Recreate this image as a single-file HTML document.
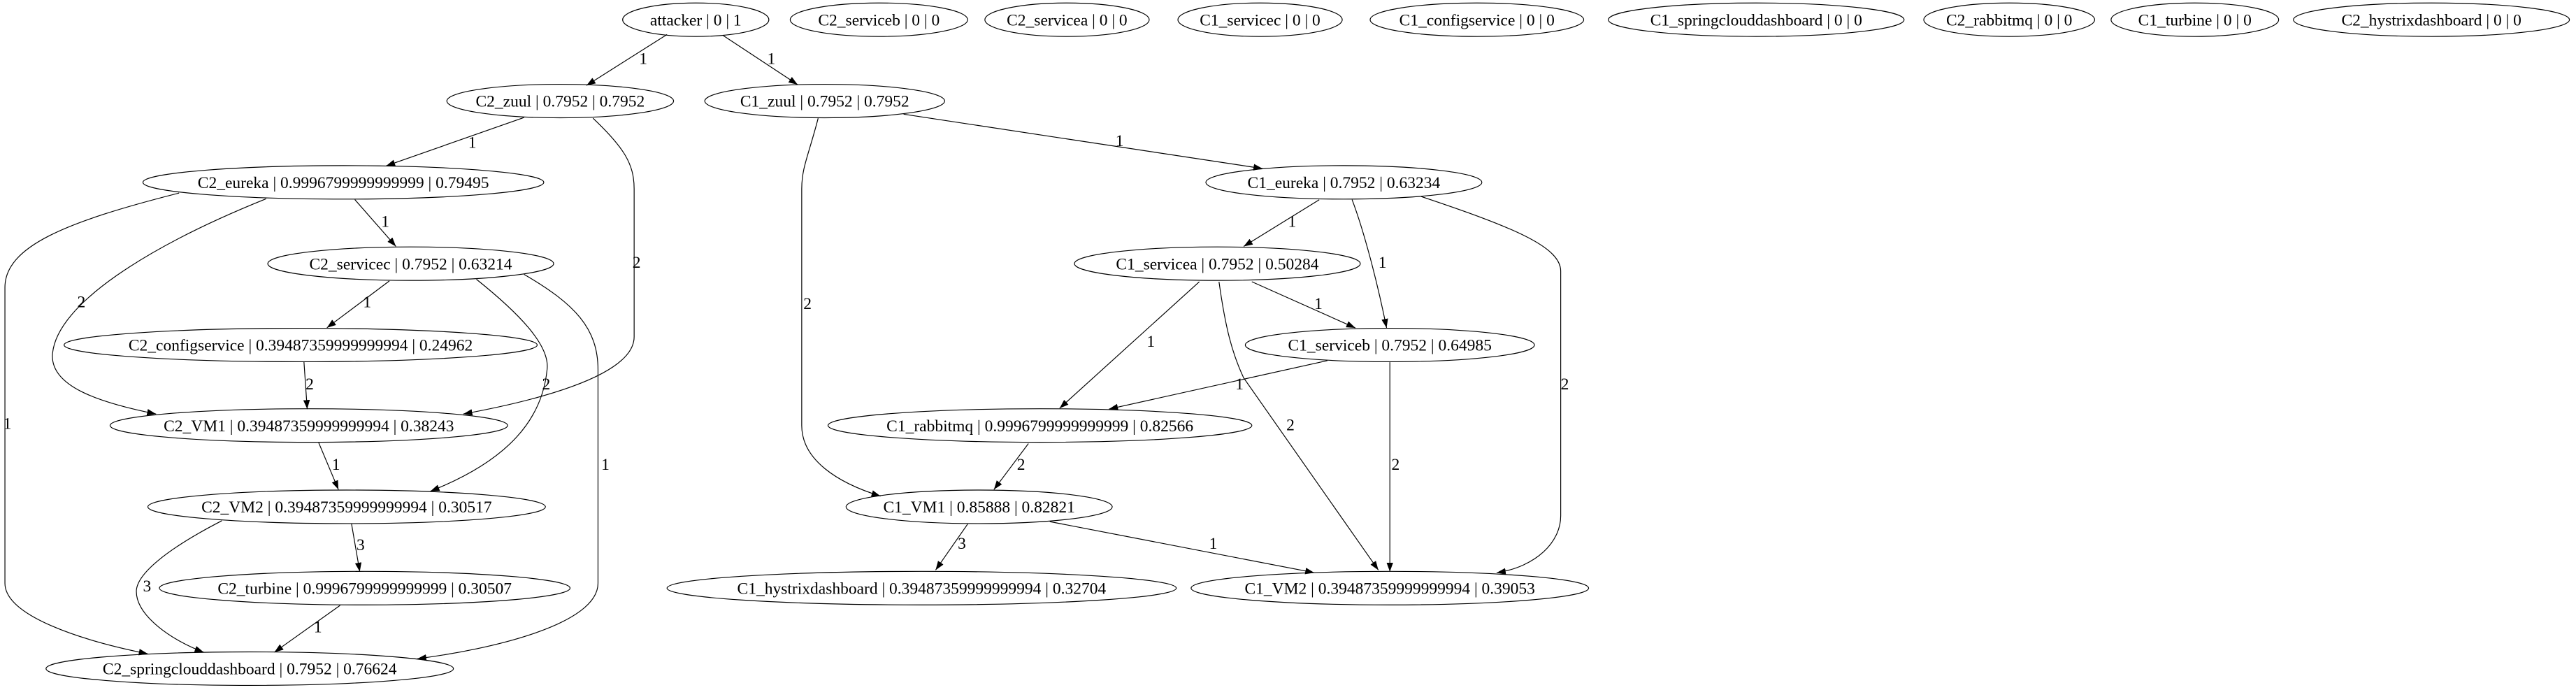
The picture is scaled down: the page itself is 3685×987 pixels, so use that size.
<!DOCTYPE html>
<html><head><meta charset="utf-8"><style>
html,body{margin:0;padding:0;background:#fff;}
svg{display:block;}
text{font-family:"Liberation Serif",serif;font-size:10px;fill:#000;}
</style></head><body>
<svg width="3685" height="987" viewBox="0 0 1568 420" preserveAspectRatio="none" xmlns="http://www.w3.org/2000/svg">
<defs><marker id="a" markerUnits="userSpaceOnUse" markerWidth="6" markerHeight="5" refX="5.5" refY="2" orient="auto"><path d="M0,0 L5.5,2 L0,4 Z" fill="#000"/></marker></defs>
<g fill="none" stroke="#000" stroke-width="0.5">
<ellipse cx="423.5" cy="12" rx="44.5" ry="10.2"/>
<ellipse cx="535" cy="12" rx="54" ry="10.2"/>
<ellipse cx="649.5" cy="12" rx="50" ry="10.2"/>
<ellipse cx="767" cy="12" rx="50" ry="10.2"/>
<ellipse cx="899" cy="12" rx="65" ry="10.2"/>
<ellipse cx="1069" cy="12" rx="90" ry="10.2"/>
<ellipse cx="1223" cy="12" rx="52" ry="10.2"/>
<ellipse cx="1336" cy="12" rx="51" ry="10.2"/>
<ellipse cx="1480" cy="12" rx="84" ry="10.2"/>
<ellipse cx="341" cy="61.5" rx="69" ry="10.2"/>
<ellipse cx="502" cy="61.5" rx="73" ry="10.2"/>
<ellipse cx="209" cy="111" rx="122" ry="10.2"/>
<ellipse cx="818" cy="111" rx="84" ry="10.2"/>
<ellipse cx="250" cy="160.5" rx="87" ry="10.2"/>
<ellipse cx="741" cy="160.5" rx="87" ry="10.2"/>
<ellipse cx="183" cy="210" rx="144" ry="10.2"/>
<ellipse cx="846" cy="210" rx="88" ry="10.2"/>
<ellipse cx="188" cy="259" rx="121" ry="10.2"/>
<ellipse cx="633" cy="259" rx="129" ry="10.2"/>
<ellipse cx="211" cy="308.5" rx="121" ry="10.2"/>
<ellipse cx="596" cy="308.5" rx="81" ry="10.2"/>
<ellipse cx="222" cy="358" rx="125" ry="10.2"/>
<ellipse cx="561" cy="358" rx="155" ry="10.2"/>
<ellipse cx="846" cy="358" rx="121" ry="10.2"/>
<ellipse cx="152" cy="407" rx="124" ry="10.2"/>
</g>
<g fill="none" stroke="#000" stroke-width="0.5" marker-end="url(#a)">
<path d="M406,21 L357,52"/>
<path d="M440,21.5 L485.5,51.5"/>
<path d="M319,71.5 L235,101"/>
<path d="M361,72 C380,90 386,100 386,115 L386,205 C386,230 320,245 282,252"/>
<path d="M498,72 C492,95 488,102 488,115 L488,259 C488,280 510,294 536,302"/>
<path d="M550,69.5 L768.5,102.6"/>
<path d="M216,121.5 L241,150"/>
<path d="M162,121 C90,150 35,185 32,215 C30,235 60,245 95,252"/>
<path d="M109,117.5 C40,135 3,150 3,175 L3,355 C3,375 50,390 90,398"/>
<path d="M237,171 L199,199.5"/>
<path d="M290,170 C315,190 335,210 333,225 C330,255 310,280 262,299"/>
<path d="M319,167 C350,185 364,200 364,225 L364,355 C364,380 300,395 254,401"/>
<path d="M185,220 L187,249"/>
<path d="M194,269.5 L206,298"/>
<path d="M214,319 L219,348"/>
<path d="M135,317 C100,335 83,350 83,360 C83,375 105,390 124,397"/>
<path d="M207,368.5 L167,397"/>
<path d="M803,121.6 L757,150"/>
<path d="M823,121.5 C830,140 838,170 844,199.6"/>
<path d="M865,119.6 C920,138 950,150 950,165 L950,314 C950,330 935,345 911,348.6"/>
<path d="M730,171.5 L645,248.5"/>
<path d="M762,171.5 L825,199.6"/>
<path d="M742,171.5 C746,200 750,215 757,230 L839,347"/>
<path d="M808,219.5 L675,249"/>
<path d="M846,220.5 L846,348"/>
<path d="M626,270 L605,298"/>
<path d="M589,319 L569.5,347"/>
<path d="M639,317.5 L800,348.6"/>
</g>
<g text-anchor="middle">
<text x="423.5" y="15.5">attacker | 0 | 1</text>
<text x="535" y="15.5">C2_serviceb | 0 | 0</text>
<text x="649.5" y="15.5">C2_servicea | 0 | 0</text>
<text x="767" y="15.5">C1_servicec | 0 | 0</text>
<text x="899" y="15.5">C1_configservice | 0 | 0</text>
<text x="1069" y="15.5">C1_springclouddashboard | 0 | 0</text>
<text x="1223" y="15.5">C2_rabbitmq | 0 | 0</text>
<text x="1336" y="15.5">C1_turbine | 0 | 0</text>
<text x="1480" y="15.5">C2_hystrixdashboard | 0 | 0</text>
<text x="341" y="65">C2_zuul | 0.7952 | 0.7952</text>
<text x="502" y="65">C1_zuul | 0.7952 | 0.7952</text>
<text x="209" y="114.5">C2_eureka | 0.9996799999999999 | 0.79495</text>
<text x="818" y="114.5">C1_eureka | 0.7952 | 0.63234</text>
<text x="250" y="164">C2_servicec | 0.7952 | 0.63214</text>
<text x="741" y="164">C1_servicea | 0.7952 | 0.50284</text>
<text x="183" y="213.5">C2_configservice | 0.39487359999999994 | 0.24962</text>
<text x="846" y="213.5">C1_serviceb | 0.7952 | 0.64985</text>
<text x="188" y="262.5">C2_VM1 | 0.39487359999999994 | 0.38243</text>
<text x="633" y="262.5">C1_rabbitmq | 0.9996799999999999 | 0.82566</text>
<text x="211" y="312">C2_VM2 | 0.39487359999999994 | 0.30517</text>
<text x="596" y="312">C1_VM1 | 0.85888 | 0.82821</text>
<text x="222" y="361.5">C2_turbine | 0.9996799999999999 | 0.30507</text>
<text x="561" y="361.5">C1_hystrixdashboard | 0.39487359999999994 | 0.32704</text>
<text x="846" y="361.5">C1_VM2 | 0.39487359999999994 | 0.39053</text>
<text x="152" y="410.5">C2_springclouddashboard | 0.7952 | 0.76624</text>
</g>
<g>
<text x="389" y="39">1</text>
<text x="467" y="39">1</text>
<text x="285" y="90">1</text>
<text x="385" y="163">2</text>
<text x="489" y="188">2</text>
<text x="679" y="89">1</text>
<text x="232" y="138">1</text>
<text x="47" y="187">2</text>
<text x="2" y="261">1</text>
<text x="221" y="187">1</text>
<text x="330" y="237">2</text>
<text x="366" y="286">1</text>
<text x="186" y="237">2</text>
<text x="202" y="286">1</text>
<text x="217" y="335">3</text>
<text x="87" y="360">3</text>
<text x="191" y="385">1</text>
<text x="784" y="138">1</text>
<text x="839" y="163">1</text>
<text x="950" y="237">2</text>
<text x="698" y="211">1</text>
<text x="800" y="188">1</text>
<text x="783" y="262">2</text>
<text x="752" y="237">1</text>
<text x="847" y="286">2</text>
<text x="619" y="286">2</text>
<text x="583" y="334">3</text>
<text x="736" y="334">1</text>
</g>
</svg>
</body></html>
